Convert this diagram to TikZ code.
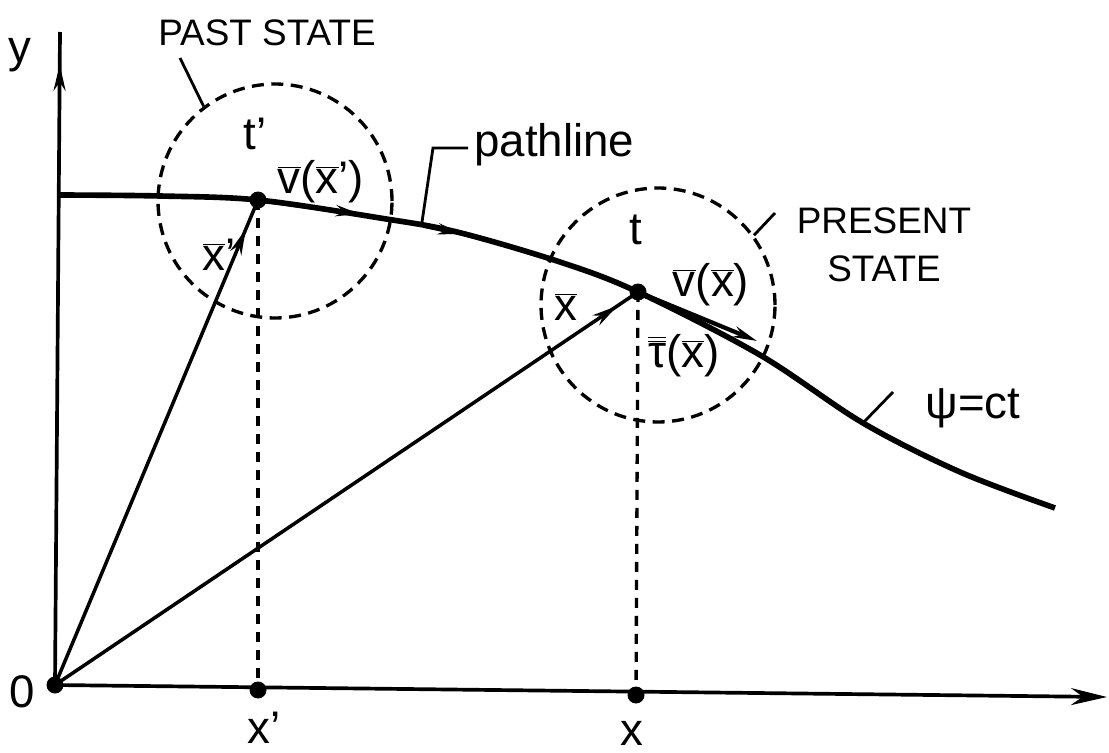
\documentclass[tikz,border=0pt]{standalone}
\usepackage{fontspec}
\setmainfont{Liberation Sans}
\usetikzlibrary{arrows.meta,decorations.markings}
\newcommand{\barred}[1]{$\overline{\mbox{#1}}$}
\newcommand{\dbarred}[1]{$\overline{\overline{\mbox{#1}}}$}

\begin{document}
\begin{tikzpicture}[x=0.02cm,y=-0.02cm,
  dot/.style={circle,fill=black,inner sep=0pt,minimum size=0.34cm},
  lbl/.style={font=\fontsize{26}{30}\selectfont,inner sep=0pt},
  caps/.style={font=\fontsize{21}{27}\selectfont,inner sep=0pt,align=center},
  axisline/.style={black,line width=2.1pt},
  vec/.style={black,line width=2pt},
  state/.style={circle,draw=black,line width=1.9pt,dash pattern=on 0.24cm off 0.15cm,minimum size=4.68cm,inner sep=0pt},
  drop/.style={black,line width=1.9pt,dash pattern=on 0.2cm off 0.16cm},
  leader/.style={black,line width=1.6pt},
  tipat/.style={postaction={decorate},decoration={markings,mark=at position #1 with {\arrow{Stealth[length=0.52cm,width=0.24cm]}}}}]
\useasboundingbox (0,0) rectangle (1109,753);
\node[state] (past) at (275,201) {};
\node[state] (present) at (658,305) {};
\node[dot] (O) at (55,685) {};
\node[dot] (tp) at (258,200) {};
\node[dot] (t) at (638,292) {};
\node[dot] (xp) at (258,690) {};
\node[dot] (x) at (636,695) {};
\coordinate (yend) at (60,32);
\coordinate (xend) at (1107,697);
\draw[axisline,-{Stealth[length=0.72cm,width=0.34cm]}] (O.center) -- (xend);
\draw[axisline,tipat=0.95] (O.center) -- (yend);
\draw[drop] (tp.center) -- (xp.center);
\draw[drop] (t.center) -- (x.center);
\draw[vec,tipat=0.94] (O.center) -- (tp.center);
\draw[vec,tipat=0.965] (O.center) -- (t.center);
\draw[black,line width=3.2pt] plot[smooth,tension=0.55] coordinates {(60,195) (160,196) (258,200) (380,218) (457,232) (560,262) (638,292) (760,355) (863,423) (960,472) (1055,508)};
\coordinate (vtp) at (360,214);
\coordinate (vt) at (757,341);
\coordinate (pa) at (425,226);
\coordinate (pb) at (462,234);
\draw[vec,line width=2.4pt,-{Stealth[length=0.48cm,width=0.22cm]}] (tp.center) -- (vtp);
\draw[vec,line width=2.4pt,-{Stealth[length=0.48cm,width=0.22cm]}] (t.center) -- (vt);
\draw[vec,line width=2.4pt,-{Stealth[length=0.48cm,width=0.22cm]}] (pa) -- (pb);
\node[lbl] (ylbl) at (20,55) {y};
\node[lbl] (olbl) at (22,692) {0};
\node[lbl] (xplbl) at (264,728) {x’};
\node[lbl] (xlbl) at (632,733) {x};
\node[caps] (pastlbl) at (267,33) {PAST STATE};
\node[caps] (presentlbl) at (884,245) {PRESENT\\STATE};
\node[lbl] (tplbl) at (255,134) {t’};
\node[lbl] (vtplbl) at (321,182) {\barred{v}(\barred{x}’)};
\node[lbl] (xvplbl) at (219,255) {\barred{x}’};
\node[lbl] (tlbl) at (636,230) {t};
\node[lbl] (vtlbl) at (711,285) {\barred{v}(\barred{x})};
\node[lbl] (xvlbl) at (566,307) {\barred{x}};
\node[lbl] (taulbl) at (684,356) {\dbarred{τ}(\barred{x})};
\node[lbl,anchor=base west] (pathlbl) at (474,157) {pathline};
\node[lbl] (psilbl) at (973,408) {ψ=ct};
\coordinate (pastend) at (180,58);
\coordinate (presentend) at (775,213);
\coordinate (pl1) at (422,222);
\coordinate (pl2) at (433,148);
\coordinate (pl3) at (468,148);
\coordinate (psi1) at (863,423);
\coordinate (psi2) at (893,392);
\draw[leader] (past.127) -- (pastend);
\draw[leader] (present.36) -- (presentend);
\draw[leader] (pl1) -- (pl2) -- (pl3);
\draw[leader] (psi1) -- (psi2);
\end{tikzpicture}
\end{document}
